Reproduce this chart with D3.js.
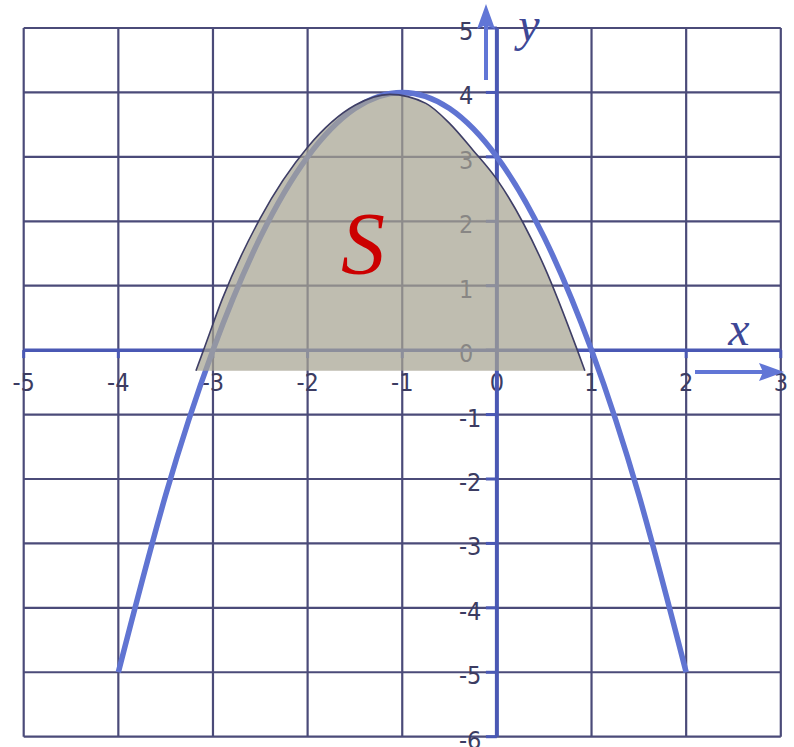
<!DOCTYPE html>
<html>
<head>
<meta charset="utf-8">
<script src="https://cdn.jsdelivr.net/npm/d3@7"></script>
<style>
  body { margin: 0; background: #fff; }
  svg { display: block; }
</style>
</head>
<body>
<div id="chart"></div>
<script>
// tick values
var xTicks = [-5, -4, -3, -2, -1, 0, 1, 2, 3];
var yTicks = [5, 4, 3, 2, 1, 0, -1, -2, -3, -4, -5, -6];

// blue parabola, points
var curveX = [-4, -3.5, -3, -2.5, -2, -1.5, -1, -0.5, 0, 0.5, 1, 1.5, 2];
var curveY = [-5, -2.25, 0, 1.75, 3, 3.75, 4, 3.75, 3, 1.75, 0, -2.25, -5];

// shaded region S (top edge) and its flat bottom
var regionX = [-3.18, -3.1, -2.9, -2.5, -2, -1.5, -1.13, -0.75, -0.5, -0.25, 0, 0.5, 0.85, 0.93];
var regionY = [-0.32, 0, 0.8, 2.05, 3.15, 3.8, 3.97, 3.83, 3.52, 3.1, 2.65, 1.3, 0, -0.32];
var regionBase = -0.32;

(function chart(){
  var W = 794, H = 747;

  var svg = d3.select("#chart").append("svg")
      .attr("width", W)
      .attr("height", H);

  // scales
  var x = d3.scaleLinear().domain([-5, 3]).range([23.7, 780.8]);
  var y = d3.scaleLinear().domain([-6, 5]).range([736.7, 28]);

  var gridColor = "#4b4b79";
  var axisColor = "#4a58b4";
  var labelColor = "#3c3c62";

  // grid
  svg.append("g").selectAll("line")
      .data(xTicks.filter(function(d){ return d !== 0; }))
    .enter().append("line")
      .attr("x1", function(d){ return x(d); })
      .attr("x2", function(d){ return x(d); })
      .attr("y1", y(5))
      .attr("y2", y(-6))
      .style("stroke", gridColor)
      .style("stroke-width", 2.2);

  svg.append("g").selectAll("line")
      .data(yTicks.filter(function(d){ return d !== 0; }))
    .enter().append("line")
      .attr("x1", x(-5))
      .attr("x2", x(3))
      .attr("y1", function(d){ return y(d); })
      .attr("y2", function(d){ return y(d); })
      .style("stroke", gridColor)
      .style("stroke-width", 2.2);

  // tick labels
  svg.append("g").selectAll("text")
      .data(xTicks)
    .enter().append("text")
      .attr("x", function(d){ return x(d); })
      .attr("y", y(0) + 41)
      .attr("text-anchor", "middle")
      .text(function(d){ return d; });

  svg.append("g").selectAll("text")
      .data(yTicks)
    .enter().append("text")
      .attr("x", 459)
      .attr("y", function(d){ return y(d) + 12; })
      .attr("text-anchor", "start")
      .text(function(d){ return d; });

  svg.selectAll("text")
      .style("font-family", "'DejaVu Sans Condensed', 'DejaVu Sans', sans-serif")
      .style("font-size", "25px")
      .style("fill", labelColor);

  // axes
  svg.append("line")
      .attr("x1", x(-5)).attr("x2", x(3))
      .attr("y1", y(0)).attr("y2", y(0))
      .style("stroke", axisColor)
      .style("stroke-width", 3.5);
  svg.append("line")
      .attr("x1", x(0)).attr("x2", x(0))
      .attr("y1", y(5)).attr("y2", y(-6))
      .style("stroke", axisColor)
      .style("stroke-width", 4);

  svg.append("g").selectAll("line")
      .data(xTicks)
    .enter().append("line")
      .attr("x1", function(d){ return x(d); })
      .attr("x2", function(d){ return x(d); })
      .attr("y1", y(0))
      .attr("y2", y(0) + 8)
      .style("stroke", axisColor)
      .style("stroke-width", 3);

  svg.append("g").selectAll("line")
      .data(yTicks)
    .enter().append("line")
      .attr("x1", x(0) - 11)
      .attr("x2", x(0))
      .attr("y1", function(d){ return y(d); })
      .attr("y2", function(d){ return y(d); })
      .style("stroke", axisColor)
      .style("stroke-width", 3);

  // the parabola
  var curvePts = curveX.map(function(d, i){ return [d, curveY[i]]; });
  svg.append("path")
      .datum(curvePts)
      .attr("d", d3.line()
        .x(function(d){ return x(d[0]); })
        .y(function(d){ return y(d[1]); })
        .curve(d3.curveNatural))
      .style("fill", "none")
      .style("stroke", "#6074d2")
      .style("stroke-width", 5.5);

  // shaded region, translucent on top
  var regionPts = regionX.map(function(d, i){ return [d, regionY[i]]; });
  svg.append("path")
      .datum(regionPts)
      .attr("d", d3.area()
        .x(function(d){ return x(d[0]); })
        .y0(y(regionBase))
        .y1(function(d){ return y(d[1]); })
        .curve(d3.curveMonotoneX))
      .style("fill", "rgb(166,163,146)")
      .style("fill-opacity", 0.72);

  svg.append("path")
      .datum(regionPts)
      .attr("d", d3.line()
        .x(function(d){ return x(d[0]); })
        .y(function(d){ return y(d[1]); })
        .curve(d3.curveMonotoneX))
      .style("fill", "none")
      .style("stroke", "#3e3e66")
      .style("stroke-width", 1.6);

  // S
  svg.append("text")
      .attr("x", 363)
      .attr("y", 273)
      .attr("text-anchor", "middle")
      .style("font-family", "'Liberation Serif', 'Times New Roman', serif")
      .style("font-style", "italic")
      .style("font-size", "88px")
      .style("fill", "#cc0000")
      .text("S");

  // axis names
  svg.append("text")
      .attr("x", 739)
      .attr("y", 345)
      .attr("text-anchor", "middle")
      .style("font-family", "'Liberation Serif', serif")
      .style("font-style", "italic")
      .style("font-size", "48px")
      .style("fill", "#3e4796")
      .text("x");

  svg.append("text")
      .attr("x", 529)
      .attr("y", 41)
      .attr("text-anchor", "middle")
      .style("font-family", "'Liberation Serif', serif")
      .style("font-style", "italic")
      .style("font-size", "48px")
      .style("fill", "#3e4796")
      .text("y");

  // arrows
  var arrowColor = "#6176d6";
  svg.append("line")
      .attr("x1", 486).attr("x2", 486)
      .attr("y1", 80).attr("y2", 24)
      .style("stroke", arrowColor)
      .style("stroke-width", 4);
  svg.append("path")
      .attr("d", "M486,4 L495,29 L486,25 L477,29 Z")
      .style("fill", arrowColor);

  svg.append("line")
      .attr("x1", 695).attr("x2", 765)
      .attr("y1", 372).attr("y2", 372)
      .style("stroke", arrowColor)
      .style("stroke-width", 4);
  svg.append("path")
      .attr("d", "M784,372 L759,363 L763,372 L759,381 Z")
      .style("fill", arrowColor);
}());
</script>
</body>
</html>
